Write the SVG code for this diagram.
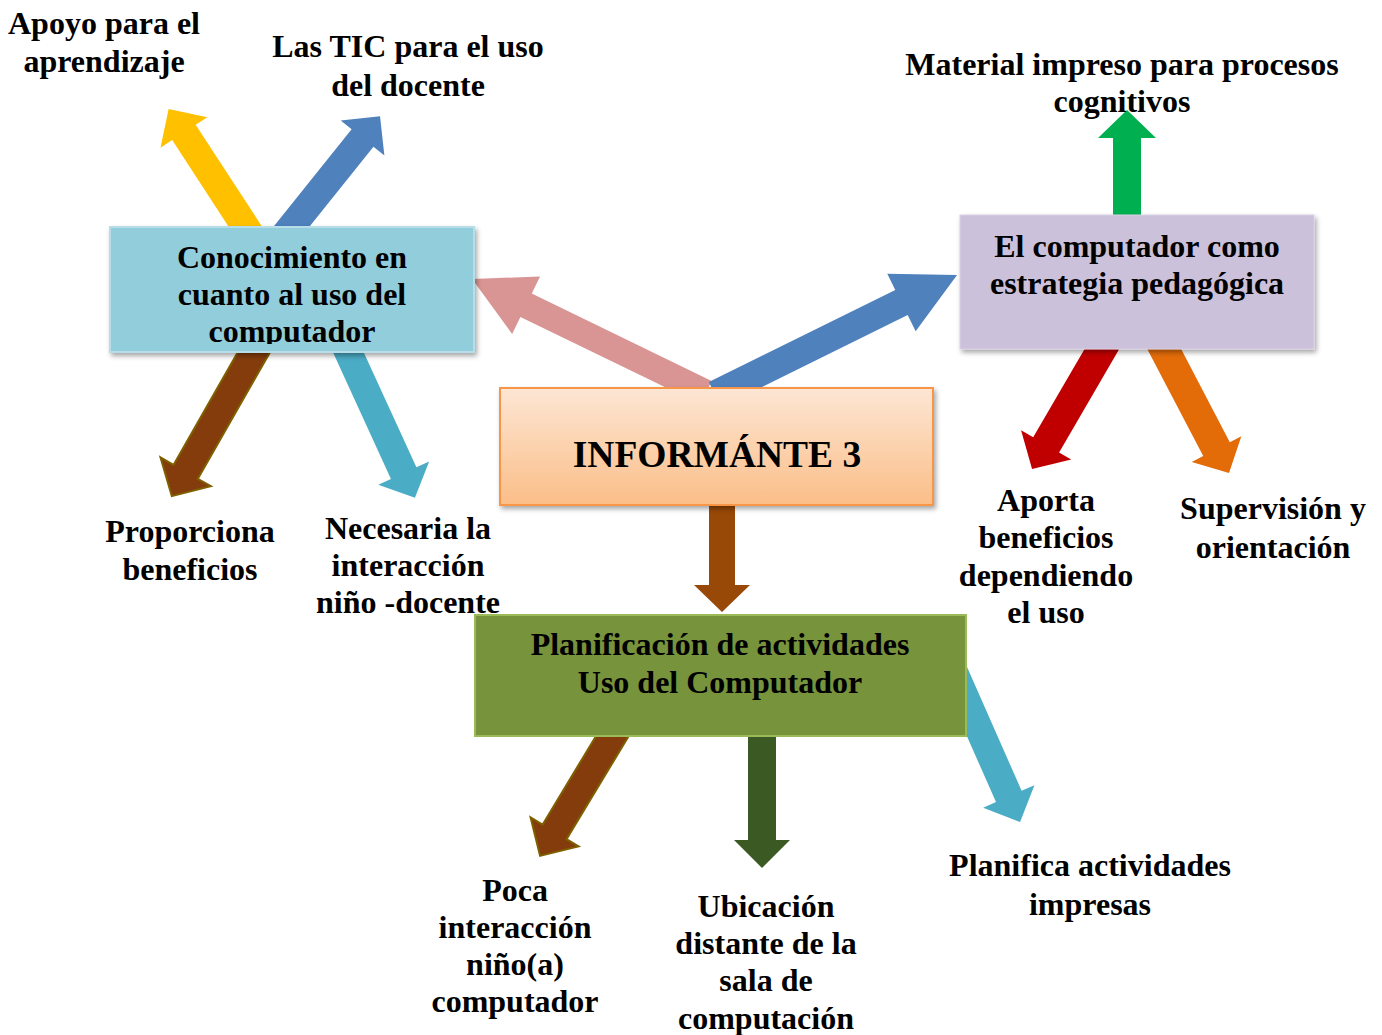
<svg xmlns="http://www.w3.org/2000/svg" width="1382" height="1035" viewBox="0 0 1382 1035">
<defs>
<style>
text{font-family:"Liberation Serif","Times New Roman",serif;font-weight:bold;fill:#000;text-anchor:middle}
.lbl{font-size:32px}
.box{font-size:32px}
.olive{stroke:#7F6000;stroke-width:2}
</style>
<linearGradient id="gOrange" x1="0" y1="0" x2="0" y2="1">
<stop offset="0" stop-color="#FDE6D4"/>
<stop offset="1" stop-color="#FBBE88"/>
</linearGradient>
<filter id="sh" x="-10%" y="-10%" width="120%" height="130%">
<feDropShadow dx="2" dy="3" stdDeviation="2.5" flood-color="#000" flood-opacity="0.35"/>
</filter>
<clipPath id="clipC"><rect x="110" y="227" width="364" height="117"/></clipPath>
</defs>
<rect width="1382" height="1035" fill="#fff"/>

<g id="connectors">
<polygon fill="#FFC000" transform="translate(256,243) rotate(-123.1)" points="0,-14 132,-14 132,-28 160,0 132,28 132,14 0,14"/>
<polygon fill="#4F81BD" transform="translate(280,241) rotate(-51.3)" points="0,-14 132,-14 132,-28 160,0 132,28 132,14 0,14"/>
<polygon fill="#D99594" transform="translate(706,392.6) rotate(-154.1)" points="0,-13 200,-13 200,-32 260,0 200,32 200,13 0,13"/>
<polygon fill="#4F81BD" transform="translate(715,394.6) rotate(-26.3)" points="0,-14 208,-14 208,-32 270,0 208,32 208,14 0,14"/>
<polygon fill="#00B050" transform="translate(1127,230) rotate(-90)" points="0,-14 92,-14 92,-29 120,0 92,29 92,14 0,14"/>
<polygon fill="#C00000" transform="translate(1106,342) rotate(120.2)" points="0,-15 119,-15 119,-29 147,0 119,29 119,15 0,15"/>
<polygon fill="#E36C09" transform="translate(1160,341) rotate(62.4)" points="0,-15 122,-15 122,-28 149,0 122,28 122,15 0,15"/>
<polygon fill="#843C0C" class="olive" transform="translate(258,345) rotate(119.7)" points="0,-14 146,-14 146,-29 174,0 146,29 146,14 0,14"/>
<polygon fill="#4BACC6" transform="translate(345,345) rotate(65.4)" points="0,-14 141,-14 141,-28 168,0 141,28 141,14 0,14"/>
<polygon fill="#984807" transform="translate(722,500) rotate(90)" points="0,-13 85,-13 85,-28 112,0 85,28 85,13 0,13"/>
<polygon fill="#843C0C" class="olive" transform="translate(616,730) rotate(121.1)" points="0,-14 119,-14 119,-28 147,0 119,28 119,14 0,14"/>
<polygon fill="#3B5A23" transform="translate(762,730) rotate(90)" points="0,-14 110,-14 110,-28 138,0 110,28 110,14 0,14"/>
<polygon fill="#4BACC6" transform="translate(951.5,666.5) rotate(66.2)" points="0,-14 142,-14 142,-28 170,0 142,28 142,14 0,14"/>
</g>

<g id="node-conocimiento">
<rect x="110" y="227" width="364" height="125" fill="#92CDDC" stroke="#B7DEE8" stroke-width="2" filter="url(#sh)"/>
<g clip-path="url(#clipC)">
<text class="box" x="292" y="268">Conocimiento en</text>
<text class="box" x="292" y="305">cuanto al uso del</text>
<text class="box" x="292" y="342">computador</text>
</g>
</g>

<g id="node-informante">
<rect x="500" y="388" width="433" height="117" fill="url(#gOrange)" stroke="#F79646" stroke-width="2" filter="url(#sh)"/>
<text x="717" y="467" style="font-size:37.5px">INFORMÁNTE 3</text>
</g>

<g id="node-computador">
<rect x="960" y="215" width="354" height="134" fill="#CCC1DA" stroke="#D9D1E5" stroke-width="1" filter="url(#sh)"/>
<text class="box" x="1137" y="257">El computador como</text>
<text class="box" x="1137" y="294">estrategia pedagógica</text>
</g>

<g id="node-planificacion">
<rect x="475" y="615" width="491" height="121" fill="#77933C" stroke="#9BBB59" stroke-width="2"/>
<text class="box" x="720" y="655">Planificación de actividades</text>
<text class="box" x="720" y="693">Uso del Computador</text>
</g>

<g id="label-apoyo">
<text class="lbl" x="104" y="34">Apoyo para el</text>
<text class="lbl" x="104" y="72">aprendizaje</text>
</g>
<g id="label-tic">
<text class="lbl" x="408" y="57">Las TIC para el uso</text>
<text class="lbl" x="408" y="96">del docente</text>
</g>
<g id="label-material">
<text class="lbl" x="1122" y="75">Material impreso para procesos</text>
<text class="lbl" x="1122" y="112">cognitivos</text>
</g>
<g id="label-proporciona">
<text class="lbl" x="190" y="542">Proporciona</text>
<text class="lbl" x="190" y="580">beneficios</text>
</g>
<g id="label-necesaria">
<text class="lbl" x="408" y="539">Necesaria la</text>
<text class="lbl" x="408" y="576">interacción</text>
<text class="lbl" x="408" y="613">niño -docente</text>
</g>
<g id="label-aporta">
<text class="lbl" x="1046" y="511">Aporta</text>
<text class="lbl" x="1046" y="548">beneficios</text>
<text class="lbl" x="1046" y="586">dependiendo</text>
<text class="lbl" x="1046" y="623">el uso</text>
</g>
<g id="label-supervision">
<text class="lbl" x="1273" y="519">Supervisión y</text>
<text class="lbl" x="1273" y="558">orientación</text>
</g>
<g id="label-poca">
<text class="lbl" x="515" y="901">Poca</text>
<text class="lbl" x="515" y="938">interacción</text>
<text class="lbl" x="515" y="975">niño(a)</text>
<text class="lbl" x="515" y="1012">computador</text>
</g>
<g id="label-ubicacion">
<text class="lbl" x="766" y="917">Ubicación</text>
<text class="lbl" x="766" y="954">distante de la</text>
<text class="lbl" x="766" y="991">sala de</text>
<text class="lbl" x="766" y="1029">computación</text>
</g>
<g id="label-planifica">
<text class="lbl" x="1090" y="876">Planifica actividades</text>
<text class="lbl" x="1090" y="915">impresas</text>
</g>
</svg>
